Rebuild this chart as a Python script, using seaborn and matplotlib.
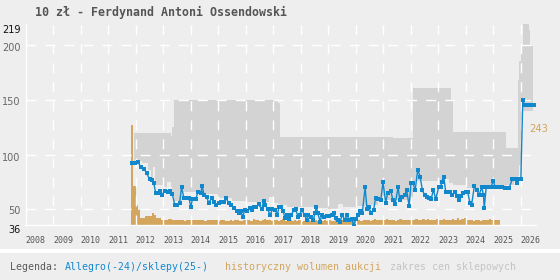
import numpy as np
import pandas as pd
import matplotlib
matplotlib.use("Agg")
import matplotlib.pyplot as plt
import seaborn as sns
from matplotlib.transforms import ScaledTranslation
from matplotlib.patches import Rectangle

# ---------------- data ----------------
title = "10 zł - Ferdynand Antoni Ossendowski"
years = list(range(2008, 2027))
ytick_vals = [36, 50, 100, 150, 200, 219]
ytick_labels = ["36", "50", "100", "150", "200", "219"]

# Allegro / shop price line (fractional year, price)
blue_t = [2011.88, 2011.98, 2012.09, 2012.18, 2012.31, 2012.40, 2012.51, 2012.61, 2012.66, 2012.73,
          2012.81, 2012.88, 2012.96, 2013.06, 2013.16, 2013.25, 2013.33, 2013.43, 2013.51, 2013.60,
          2013.67, 2013.76, 2013.87, 2013.94, 2014.01, 2014.06, 2014.18, 2014.27, 2014.37, 2014.42,
          2014.49, 2014.58, 2014.66, 2014.76, 2014.85, 2014.93, 2015.02, 2015.12, 2015.21, 2015.29,
          2015.39, 2015.48, 2015.58, 2015.68, 2015.75, 2015.82, 2015.90, 2015.96, 2016.06, 2016.14,
          2016.23, 2016.31, 2016.38, 2016.47, 2016.59, 2016.65, 2016.71, 2016.80, 2016.89, 2016.97,
          2017.07, 2017.15, 2017.21, 2017.29, 2017.36, 2017.44, 2017.50, 2017.58, 2017.66, 2017.74,
          2017.82, 2017.90, 2017.96, 2018.04, 2018.14, 2018.22, 2018.28, 2018.38, 2018.46, 2018.52,
          2018.57, 2018.62, 2018.71, 2018.76, 2018.86, 2018.95, 2019.03, 2019.13, 2019.20, 2019.27,
          2019.35, 2019.43, 2019.51, 2019.61, 2019.68, 2019.76, 2019.86, 2019.92, 2020.00, 2020.10,
          2020.17, 2020.24, 2020.34, 2020.41, 2020.48, 2020.55, 2020.65, 2020.72, 2020.82, 2020.91,
          2020.99, 2021.09, 2021.16, 2021.27, 2021.35, 2021.43, 2021.54, 2021.60, 2021.67, 2021.78,
          2021.85, 2021.94, 2022.01, 2022.07, 2022.16, 2022.25, 2022.34, 2022.42, 2022.50, 2022.60,
          2022.67, 2022.74, 2022.82, 2022.91, 2023.01, 2023.08, 2023.13, 2023.20, 2023.27, 2023.37,
          2023.44, 2023.51, 2023.59, 2023.67, 2023.76, 2023.83, 2023.91, 2024.00, 2024.07, 2024.15,
          2024.21, 2024.31, 2024.40, 2024.48, 2024.58, 2024.64, 2024.67, 2024.74, 2024.82, 2024.91,
          2025.00, 2025.06, 2025.18, 2025.31, 2025.42, 2025.57, 2025.69, 2025.79, 2025.85, 2025.90,
          2026.00, 2026.07, 2026.13, 2026.20, 2026.27, 2026.34, 2026.40, 2026.46]
blue_v = [92.5, 92.5, 93, 89, 87, 83, 77.4, 77, 74, 65,
          65, 67, 63, 67, 66, 67, 64, 53.7, 53.7, 56,
          70, 60, 60, 60, 51.8, 59, 59, 66, 65, 71,
          63, 61, 56, 60, 57, 54, 56, 57, 57, 60,
          55.7, 54, 51, 48, 46.3, 48, 43, 49.5, 48, 51,
          49, 52, 52, 54.5, 50, 58, 54, 50, 44.8, 50,
          49.5, 44.8, 51.8, 52.5, 48, 41.8, 44.8, 41, 44.8, 49,
          50, 43, 44.8, 49.5, 44.8, 40.2, 44.8, 43, 40.2, 46.3,
          51.8, 46.3, 38.7, 44.8, 42.7, 44, 44, 44.8, 46.3, 41.8,
          40.2, 38.7, 44.8, 40.2, 44.8, 40.2, 41, 35, 41, 44.8,
          48, 47, 70, 50, 51.8, 47, 49.5, 60, 59, 58.5,
          74.7, 56, 65, 67, 58.5, 54.8, 70, 58.5, 61, 63,
          67.6, 53, 74.3, 74.3, 67.6, 85.9, 79.8, 67.6, 63, 61,
          60, 59.3, 67.6, 59.3, 70, 70, 75.2, 79.8, 65.5, 65.5,
          65.5, 63, 65.5, 62, 58.5, 62, 64.6, 65.5, 65.5, 56,
          54, 71.3, 67.6, 63, 70, 63, 51, 70, 70.5, 70,
          75.8, 70.5, 70.5, 70, 69.3, 69.3, 77.4, 77.4, 73.7, 78,
          78, 150, 145, 145, 145, 145, 145, 145]

# shop price range (step area): breakpoints, lower and upper bound
shop_t = [2011.93, 2012.25, 2012.45, 2012.55, 2012.62, 2012.70, 2013.00, 2013.15, 2013.27, 2013.33,
          2013.40, 2013.50, 2013.70, 2014.00, 2014.50, 2015.00, 2015.50, 2016.00, 2016.50, 2016.85,
          2017.00, 2017.19, 2017.25, 2017.50, 2018.00, 2018.50, 2019.00, 2019.35, 2019.55, 2020.00,
          2020.50, 2020.80, 2021.36, 2022.00, 2022.08, 2022.50, 2023.00, 2023.25, 2023.40, 2023.46,
          2023.53, 2024.00, 2024.50, 2025.00, 2025.46, 2025.75, 2025.90, 2025.95, 2026.00, 2026.08,
          2026.29, 2026.35, 2026.45]
shop_lo = [94, 92, 86, 78, 89, 72, 70, 75, 70, 65,
           58, 58, 66, 66, 64, 60, 58, 57, 57, 61,
           56, 55, 54, 52, 52, 51, 50, 55, 52, 53,
           54, 58.5, 58.5, 60, 76, 76, 73, 78, 74, 74,
           72, 69, 69, 69, 72, 77, 80, 90, 140, 140,
           140, 140, 140]
shop_hi = [119.5, 119.5, 119.5, 119.5, 119.5, 119.5, 119.5, 119.5, 116.6, 125,
           150, 150, 150, 150, 150, 150, 150, 150, 150, 150,
           150, 147, 116.3, 116.3, 116.3, 116.3, 116.3, 116.3, 116.3, 116.3,
           116.3, 116.3, 115.5, 115.5, 160.5, 160.5, 160.5, 160.5, 160.5, 150,
           121, 121, 121, 121, 105.7, 105.7, 168, 185, 200, 219,
           214, 199, 199]

# monthly auction volume, starting 2011-11
vol_start = "2011-11"
volume = [243, 95,
          49, 36, 17, 17, 20, 20, 20, 29, 24, 17, 17, 12,
          12, 12, 13, 13, 12, 10, 10, 10, 11, 9, 10, 12,
          10, 12, 12, 12, 10, 10, 9, 10, 12, 12, 10, 10,
          9, 10, 10, 9, 8, 10, 9, 12, 10, 8, 9, 10,
          12, 10, 9, 14, 12, 10, 9, 11, 13, 12, 10, 9,
          10, 12, 9, 10, 13, 9, 12, 10, 9, 11, 8, 10,
          7, 9, 12, 10, 8, 9, 12, 9, 10, 8, 10, 9,
          10, 8, 9, 12, 10, 9, 10, 12, 9, 10, 8, 9,
          12, 10, 9, 10, 12, 10, 9, 12, 13, 10, 12, 10,
          12, 14, 10, 12, 10, 9, 12, 13, 12, 10, 12, 10,
          12, 10, 14, 12, 10, 13, 12, 14, 12, 10, 12, 13,
          10, 12, 14, 12, 10, 12, 13, 12, 15, 12, 14, 16,
          12, 10, 10, 9, 12, 10, 8, 10, 12, 12, 13, 10,
          12, 10, 12]
vol_max_label = "243"

legend_parts = [("Legenda:", "#5a5a5a", 10),
                ("Allegro(-24)/sklepy(25-)", "#1188cc", 65),
                ("historyczny wolumen aukcji", "#d4a55c", 225),
                ("zakres cen sklepowych", "#c4c4c4", 390)]

# ---------------- style ----------------
BG = "#eeeeee"
BLUE = "#1188cc"
ORANGE = "#d4a55c"
GRAY = "#d3d3d3"
sns.set_theme(style="white")
plt.rcParams["font.family"] = ["DejaVu Sans"]
plt.rcParams["lines.scale_dashes"] = False

W_PX, H_PX = 560, 280
fig = plt.figure(figsize=(W_PX / 100, H_PX / 100), dpi=100, facecolor=BG)

left_px, right_px, top_px, bot_px = 25.5, 536, 24.2, 224.6
rect = [left_px / W_PX, 1 - bot_px / H_PX, (right_px - left_px) / W_PX, (bot_px - top_px) / H_PX]
ax = fig.add_axes(rect)
ax2 = ax.twinx()
ax.set_zorder(ax2.get_zorder() + 1)
ax.patch.set_visible(False)
ax2.set_facecolor(BG)

XMIN, XMAX = 2008, 2026.55
YMIN, YMAX = 36, 219

# volume bars on twin axis
months = pd.period_range(vol_start, periods=len(volume), freq="M")
vol_t = np.array([p.year + (p.month - 1) / 12 for p in months])
ax2.bar(vol_t, volume, width=1 / 12, align="edge", color=ORANGE, linewidth=0)
ax2.set_ylim(0, max(volume) * (YMAX - YMIN) / (127 - YMIN))
ax2.set_yticks([])
for s in ax2.spines.values():
    s.set_visible(False)

# shop price range
ax.fill_between(shop_t, shop_lo, shop_hi, step="post", color=GRAY, linewidth=0, zorder=1)

# grid
for v in [50, 100, 150, 200]:
    ax.axhline(v, color="white", lw=1.0, dashes=(7.2, 6.5), zorder=2)
for yr in years[1:]:
    ax.axvline(yr, color="white", lw=1.0, dashes=(7.2, 6.5), zorder=2)

# price line
sns.lineplot(x=blue_t, y=blue_v, ax=ax, color=BLUE, marker="s", markersize=3.2,
             markeredgewidth=0, linewidth=1.0, sort=False, estimator=None, zorder=3)

ax.set_xlim(XMIN, XMAX)
ax.set_ylim(YMIN, YMAX)
ax.set_xlabel("")
ax.set_ylabel("")

for side in ["top", "right"]:
    ax.spines[side].set_visible(False)
for side in ["left", "bottom"]:
    ax.spines[side].set_visible(True)
    ax.spines[side].set_color("white")
    ax.spines[side].set_linewidth(1.0)

ax.set_xticks(years)
ax.set_xticklabels([str(y) for y in years], fontsize=6, color="#555555",
                   family="DejaVu Sans Mono", ha="left")
ax.tick_params(axis="x", length=0, pad=8.5)

ax.set_yticks(ytick_vals)
ax.set_yticklabels(ytick_labels, fontsize=7, va="center")
ax.tick_params(axis="y", length=0, pad=3.6)
offsets = {"36": -5, "219": -6, "50": -1.5, "100": -3, "150": -2.5, "200": -2.5}
for lab in ax.get_yticklabels():
    t = lab.get_text()
    lab.set_color("#111111" if t in ("36", "219") else "#666666")
    lab.set_transform(lab.get_transform() + ScaledTranslation(0, offsets[t] / 100, fig.dpi_scale_trans))

# max volume label
fig.text(529 / W_PX, 1 - 128.7 / H_PX, vol_max_label, color=ORANGE, fontsize=7.2,
         ha="left", va="center")

# title
fig.text(35 / W_PX, 1 - 12.5 / H_PX, title, color="#555555", fontsize=8.4,
         family="DejaVu Sans Mono", fontweight="bold", ha="left", va="center")

# separator band
fig.add_artist(Rectangle((0, 1 - 253 / H_PX), 1, 4 / H_PX, transform=fig.transFigure,
                         facecolor="white", edgecolor="none"))

# legend
for txt, col, xpx in legend_parts:
    fig.text(xpx / W_PX, 1 - 267 / H_PX, txt, color=col, fontsize=7.1,
             family="DejaVu Sans Mono", ha="left", va="center")

fig.savefig("out.png", dpi=100, facecolor=BG)
